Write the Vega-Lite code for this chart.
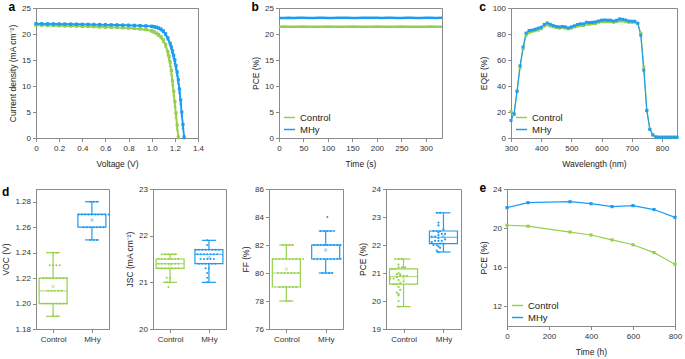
{
 "$schema": "https://vega.github.io/schema/vega-lite/v6.json",
 "padding": {"left": 1, "top": 0, "right": 2, "bottom": 0},
 "config": {
  "font": "Liberation Sans",
  "view": {"stroke": "#8a8a8a", "strokeWidth": 1},
  "axis": {"grid": false, "domainColor": "#8a8a8a", "tickColor": "#8a8a8a", "labelColor": "#333", "titleColor": "#222", "labelFontSize": 8, "titleFontSize": 8.5, "titleFontWeight": "normal", "tickSize": 3.5, "labelPadding": 2, "titlePadding": 4, "labelFlush": false, "labelOverlap": false},
  "axisX": {"labelPadding": 3, "titlePadding": 7},
  "legend": {"labelFontSize": 9.5, "labelColor": "#222", "title": null, "orient": "bottom-left", "offset": 4, "padding": 0, "rowPadding": 1, "symbolStrokeWidth": 1.5, "symbolType": "stroke", "symbolSize": 120},
  "title": {"anchor": "start", "frame": "bounds", "fontSize": 12, "fontWeight": "bold", "offset": -10, "color": "#000"}
 },
 "datasets": {
  "jv": [
   {"s":"Control forward","v":0,"j":21.68},{"s":"Control forward","v":0.05,"j":21.65},{"s":"Control forward","v":0.1,"j":21.62},{"s":"Control forward","v":0.15,"j":21.59},{"s":"Control forward","v":0.2,"j":21.56},{"s":"Control forward","v":0.25,"j":21.53},{"s":"Control forward","v":0.3,"j":21.5},{"s":"Control forward","v":0.35,"j":21.47},{"s":"Control forward","v":0.4,"j":21.43},{"s":"Control forward","v":0.45,"j":21.4},{"s":"Control forward","v":0.5,"j":21.37},{"s":"Control forward","v":0.55,"j":21.33},{"s":"Control forward","v":0.6,"j":21.29},{"s":"Control forward","v":0.65,"j":21.25},{"s":"Control forward","v":0.7,"j":21.21},{"s":"Control forward","v":0.75,"j":21.16},{"s":"Control forward","v":0.8,"j":21.1},{"s":"Control forward","v":0.85,"j":21.02},{"s":"Control forward","v":0.9,"j":20.92},{"s":"Control forward","v":0.95,"j":20.78},{"s":"Control forward","v":1.0,"j":20.52},{"s":"Control forward","v":1.02,"j":20.3},{"s":"Control forward","v":1.04,"j":20.02},{"s":"Control forward","v":1.06,"j":19.7},{"s":"Control forward","v":1.08,"j":19.25},{"s":"Control forward","v":1.1,"j":18.6},{"s":"Control forward","v":1.12,"j":17.6},{"s":"Control forward","v":1.14,"j":16.1},{"s":"Control forward","v":1.15,"j":15.1},{"s":"Control forward","v":1.16,"j":13.9},{"s":"Control forward","v":1.17,"j":12.3},{"s":"Control forward","v":1.18,"j":10.3},{"s":"Control forward","v":1.19,"j":8.3},{"s":"Control forward","v":1.2,"j":6.2},{"s":"Control forward","v":1.21,"j":4.0},{"s":"Control forward","v":1.22,"j":1.7},{"s":"Control forward","v":1.23,"j":0},
   {"s":"Control reverse","v":0,"j":21.75},{"s":"Control reverse","v":0.05,"j":21.72},{"s":"Control reverse","v":0.1,"j":21.69},{"s":"Control reverse","v":0.15,"j":21.66},{"s":"Control reverse","v":0.2,"j":21.63},{"s":"Control reverse","v":0.25,"j":21.6},{"s":"Control reverse","v":0.3,"j":21.57},{"s":"Control reverse","v":0.35,"j":21.54},{"s":"Control reverse","v":0.4,"j":21.5},{"s":"Control reverse","v":0.45,"j":21.47},{"s":"Control reverse","v":0.5,"j":21.44},{"s":"Control reverse","v":0.55,"j":21.4},{"s":"Control reverse","v":0.6,"j":21.36},{"s":"Control reverse","v":0.65,"j":21.32},{"s":"Control reverse","v":0.7,"j":21.28},{"s":"Control reverse","v":0.75,"j":21.23},{"s":"Control reverse","v":0.8,"j":21.18},{"s":"Control reverse","v":0.85,"j":21.1},{"s":"Control reverse","v":0.9,"j":21.0},{"s":"Control reverse","v":0.95,"j":20.88},{"s":"Control reverse","v":1.0,"j":20.65},{"s":"Control reverse","v":1.02,"j":20.45},{"s":"Control reverse","v":1.04,"j":20.2},{"s":"Control reverse","v":1.06,"j":19.9},{"s":"Control reverse","v":1.08,"j":19.5},{"s":"Control reverse","v":1.1,"j":18.9},{"s":"Control reverse","v":1.12,"j":18.0},{"s":"Control reverse","v":1.14,"j":16.6},{"s":"Control reverse","v":1.15,"j":15.7},{"s":"Control reverse","v":1.16,"j":14.6},{"s":"Control reverse","v":1.17,"j":13.0},{"s":"Control reverse","v":1.18,"j":11.0},{"s":"Control reverse","v":1.19,"j":9.0},{"s":"Control reverse","v":1.2,"j":7.0},{"s":"Control reverse","v":1.21,"j":4.8},{"s":"Control reverse","v":1.22,"j":2.5},{"s":"Control reverse","v":1.23,"j":0.2},
   {"s":"MHy forward","v":0,"j":21.95},{"s":"MHy forward","v":0.05,"j":21.94},{"s":"MHy forward","v":0.1,"j":21.92},{"s":"MHy forward","v":0.15,"j":21.91},{"s":"MHy forward","v":0.2,"j":21.89},{"s":"MHy forward","v":0.25,"j":21.88},{"s":"MHy forward","v":0.3,"j":21.86},{"s":"MHy forward","v":0.35,"j":21.85},{"s":"MHy forward","v":0.4,"j":21.83},{"s":"MHy forward","v":0.45,"j":21.81},{"s":"MHy forward","v":0.5,"j":21.79},{"s":"MHy forward","v":0.55,"j":21.77},{"s":"MHy forward","v":0.6,"j":21.75},{"s":"MHy forward","v":0.65,"j":21.73},{"s":"MHy forward","v":0.7,"j":21.7},{"s":"MHy forward","v":0.75,"j":21.67},{"s":"MHy forward","v":0.8,"j":21.64},{"s":"MHy forward","v":0.85,"j":21.6},{"s":"MHy forward","v":0.9,"j":21.56},{"s":"MHy forward","v":0.95,"j":21.5},{"s":"MHy forward","v":1.0,"j":21.42},{"s":"MHy forward","v":1.02,"j":21.34},{"s":"MHy forward","v":1.04,"j":21.22},{"s":"MHy forward","v":1.06,"j":21.05},{"s":"MHy forward","v":1.08,"j":20.8},{"s":"MHy forward","v":1.1,"j":20.42},{"s":"MHy forward","v":1.12,"j":19.85},{"s":"MHy forward","v":1.14,"j":19.0},{"s":"MHy forward","v":1.16,"j":17.9},{"s":"MHy forward","v":1.17,"j":17.2},{"s":"MHy forward","v":1.18,"j":16.4},{"s":"MHy forward","v":1.19,"j":15.5},{"s":"MHy forward","v":1.2,"j":14.55},{"s":"MHy forward","v":1.21,"j":13.4},{"s":"MHy forward","v":1.22,"j":12.1},{"s":"MHy forward","v":1.23,"j":10.6},{"s":"MHy forward","v":1.24,"j":8.8},{"s":"MHy forward","v":1.25,"j":6.7},{"s":"MHy forward","v":1.26,"j":4.4},{"s":"MHy forward","v":1.27,"j":2.0},{"s":"MHy forward","v":1.28,"j":0},
   {"s":"MHy reverse","v":0,"j":22.0},{"s":"MHy reverse","v":0.05,"j":21.99},{"s":"MHy reverse","v":0.1,"j":21.97},{"s":"MHy reverse","v":0.15,"j":21.96},{"s":"MHy reverse","v":0.2,"j":21.94},{"s":"MHy reverse","v":0.25,"j":21.93},{"s":"MHy reverse","v":0.3,"j":21.91},{"s":"MHy reverse","v":0.35,"j":21.9},{"s":"MHy reverse","v":0.4,"j":21.88},{"s":"MHy reverse","v":0.45,"j":21.86},{"s":"MHy reverse","v":0.5,"j":21.84},{"s":"MHy reverse","v":0.55,"j":21.82},{"s":"MHy reverse","v":0.6,"j":21.8},{"s":"MHy reverse","v":0.65,"j":21.78},{"s":"MHy reverse","v":0.7,"j":21.76},{"s":"MHy reverse","v":0.75,"j":21.73},{"s":"MHy reverse","v":0.8,"j":21.7},{"s":"MHy reverse","v":0.85,"j":21.67},{"s":"MHy reverse","v":0.9,"j":21.63},{"s":"MHy reverse","v":0.95,"j":21.58},{"s":"MHy reverse","v":1.0,"j":21.5},{"s":"MHy reverse","v":1.02,"j":21.43},{"s":"MHy reverse","v":1.04,"j":21.33},{"s":"MHy reverse","v":1.06,"j":21.18},{"s":"MHy reverse","v":1.08,"j":20.95},{"s":"MHy reverse","v":1.1,"j":20.6},{"s":"MHy reverse","v":1.12,"j":20.05},{"s":"MHy reverse","v":1.14,"j":19.25},{"s":"MHy reverse","v":1.16,"j":18.2},{"s":"MHy reverse","v":1.17,"j":17.5},{"s":"MHy reverse","v":1.18,"j":16.75},{"s":"MHy reverse","v":1.19,"j":15.9},{"s":"MHy reverse","v":1.2,"j":15.0},{"s":"MHy reverse","v":1.21,"j":13.9},{"s":"MHy reverse","v":1.22,"j":12.7},{"s":"MHy reverse","v":1.23,"j":11.2},{"s":"MHy reverse","v":1.24,"j":9.4},{"s":"MHy reverse","v":1.25,"j":7.3},{"s":"MHy reverse","v":1.26,"j":5.0},{"s":"MHy reverse","v":1.27,"j":2.6},{"s":"MHy reverse","v":1.28,"j":0.2}
  ],
  "spo": [
   {"s":"Control","t":0,"p":21.40},{"s":"Control","t":10,"p":21.42},{"s":"Control","t":20,"p":21.41},{"s":"Control","t":30,"p":21.39},{"s":"Control","t":40,"p":21.40},{"s":"Control","t":50,"p":21.43},{"s":"Control","t":60,"p":21.41},{"s":"Control","t":70,"p":21.40},{"s":"Control","t":80,"p":21.38},{"s":"Control","t":90,"p":21.41},{"s":"Control","t":100,"p":21.42},{"s":"Control","t":110,"p":21.40},{"s":"Control","t":120,"p":21.39},{"s":"Control","t":130,"p":21.41},{"s":"Control","t":140,"p":21.40},{"s":"Control","t":150,"p":21.42},{"s":"Control","t":160,"p":21.41},{"s":"Control","t":170,"p":21.39},{"s":"Control","t":180,"p":21.40},{"s":"Control","t":190,"p":21.41},{"s":"Control","t":200,"p":21.43},{"s":"Control","t":210,"p":21.40},{"s":"Control","t":220,"p":21.39},{"s":"Control","t":230,"p":21.41},{"s":"Control","t":240,"p":21.40},{"s":"Control","t":250,"p":21.42},{"s":"Control","t":260,"p":21.41},{"s":"Control","t":270,"p":21.40},{"s":"Control","t":280,"p":21.39},{"s":"Control","t":290,"p":21.41},{"s":"Control","t":300,"p":21.40},{"s":"Control","t":310,"p":21.42},{"s":"Control","t":320,"p":21.41},{"s":"Control","t":333,"p":21.40},
   {"s":"MHy","t":0,"p":23.08},{"s":"MHy","t":10,"p":23.10},{"s":"MHy","t":20,"p":23.12},{"s":"MHy","t":30,"p":23.09},{"s":"MHy","t":40,"p":23.11},{"s":"MHy","t":50,"p":23.13},{"s":"MHy","t":60,"p":23.10},{"s":"MHy","t":70,"p":23.08},{"s":"MHy","t":80,"p":23.11},{"s":"MHy","t":90,"p":23.12},{"s":"MHy","t":100,"p":23.10},{"s":"MHy","t":110,"p":23.09},{"s":"MHy","t":120,"p":23.11},{"s":"MHy","t":130,"p":23.13},{"s":"MHy","t":140,"p":23.12},{"s":"MHy","t":150,"p":23.10},{"s":"MHy","t":160,"p":23.09},{"s":"MHy","t":170,"p":23.11},{"s":"MHy","t":180,"p":23.12},{"s":"MHy","t":190,"p":23.14},{"s":"MHy","t":200,"p":23.11},{"s":"MHy","t":210,"p":23.10},{"s":"MHy","t":220,"p":23.12},{"s":"MHy","t":230,"p":23.11},{"s":"MHy","t":240,"p":23.09},{"s":"MHy","t":250,"p":23.10},{"s":"MHy","t":260,"p":23.12},{"s":"MHy","t":270,"p":23.11},{"s":"MHy","t":280,"p":23.10},{"s":"MHy","t":290,"p":23.09},{"s":"MHy","t":300,"p":23.11},{"s":"MHy","t":310,"p":23.12},{"s":"MHy","t":320,"p":23.10},{"s":"MHy","t":333,"p":23.11}
  ],
  "eqe": [
   {"s":"Control","w":300,"e":20.5},{"s":"Control","w":310,"e":18},{"s":"Control","w":320,"e":36},{"s":"Control","w":330,"e":54},{"s":"Control","w":340,"e":68.5},{"s":"Control","w":350,"e":79},{"s":"Control","w":360,"e":81},{"s":"Control","w":370,"e":82},{"s":"Control","w":380,"e":82.5},{"s":"Control","w":390,"e":83},{"s":"Control","w":400,"e":84},{"s":"Control","w":410,"e":86},{"s":"Control","w":420,"e":87},{"s":"Control","w":430,"e":86},{"s":"Control","w":440,"e":85.5},{"s":"Control","w":450,"e":85},{"s":"Control","w":460,"e":84.5},{"s":"Control","w":470,"e":85},{"s":"Control","w":480,"e":84.5},{"s":"Control","w":490,"e":84},{"s":"Control","w":500,"e":84.5},{"s":"Control","w":510,"e":85.5},{"s":"Control","w":520,"e":86},{"s":"Control","w":530,"e":86.5},{"s":"Control","w":540,"e":86.5},{"s":"Control","w":550,"e":87.5},{"s":"Control","w":560,"e":87.5},{"s":"Control","w":570,"e":88},{"s":"Control","w":580,"e":88},{"s":"Control","w":590,"e":89},{"s":"Control","w":600,"e":89.5},{"s":"Control","w":610,"e":89.5},{"s":"Control","w":620,"e":89.5},{"s":"Control","w":630,"e":89.5},{"s":"Control","w":640,"e":89},{"s":"Control","w":650,"e":89.5},{"s":"Control","w":660,"e":90},{"s":"Control","w":670,"e":90},{"s":"Control","w":680,"e":89.5},{"s":"Control","w":690,"e":89},{"s":"Control","w":700,"e":89},{"s":"Control","w":710,"e":89},{"s":"Control","w":720,"e":88},{"s":"Control","w":730,"e":80.5},{"s":"Control","w":740,"e":54.5},{"s":"Control","w":750,"e":21.5},{"s":"Control","w":760,"e":7},{"s":"Control","w":770,"e":2.5},{"s":"Control","w":780,"e":1},{"s":"Control","w":790,"e":0.8},{"s":"Control","w":800,"e":0.8},{"s":"Control","w":810,"e":0.8},{"s":"Control","w":820,"e":0.8},{"s":"Control","w":830,"e":0.8},{"s":"Control","w":840,"e":0.8},{"s":"Control","w":850,"e":0.8},
   {"s":"MHy","w":300,"e":13.5},{"s":"MHy","w":310,"e":18.6},{"s":"MHy","w":320,"e":35.9},{"s":"MHy","w":330,"e":55.5},{"s":"MHy","w":340,"e":70},{"s":"MHy","w":350,"e":80.7},{"s":"MHy","w":360,"e":82.7},{"s":"MHy","w":370,"e":83},{"s":"MHy","w":380,"e":83.7},{"s":"MHy","w":390,"e":84.5},{"s":"MHy","w":400,"e":85.2},{"s":"MHy","w":410,"e":87.3},{"s":"MHy","w":420,"e":88.5},{"s":"MHy","w":430,"e":87.5},{"s":"MHy","w":440,"e":86.5},{"s":"MHy","w":450,"e":85.8},{"s":"MHy","w":460,"e":85.5},{"s":"MHy","w":470,"e":85.8},{"s":"MHy","w":480,"e":85.5},{"s":"MHy","w":490,"e":84.7},{"s":"MHy","w":500,"e":85.5},{"s":"MHy","w":510,"e":86.3},{"s":"MHy","w":520,"e":87.3},{"s":"MHy","w":530,"e":87.8},{"s":"MHy","w":540,"e":87.8},{"s":"MHy","w":550,"e":89},{"s":"MHy","w":560,"e":88.8},{"s":"MHy","w":570,"e":89},{"s":"MHy","w":580,"e":89.3},{"s":"MHy","w":590,"e":90},{"s":"MHy","w":600,"e":90.6},{"s":"MHy","w":610,"e":90.8},{"s":"MHy","w":620,"e":90.6},{"s":"MHy","w":630,"e":90.6},{"s":"MHy","w":640,"e":90},{"s":"MHy","w":650,"e":90.6},{"s":"MHy","w":660,"e":91.6},{"s":"MHy","w":670,"e":91.3},{"s":"MHy","w":680,"e":90.8},{"s":"MHy","w":690,"e":90},{"s":"MHy","w":700,"e":89.8},{"s":"MHy","w":710,"e":89.8},{"s":"MHy","w":720,"e":88.3},{"s":"MHy","w":730,"e":79.1},{"s":"MHy","w":740,"e":52.2},{"s":"MHy","w":750,"e":21.1},{"s":"MHy","w":760,"e":6.6},{"s":"MHy","w":770,"e":2.3},{"s":"MHy","w":780,"e":0.8},{"s":"MHy","w":790,"e":0.5},{"s":"MHy","w":800,"e":0.5},{"s":"MHy","w":810,"e":0.5},{"s":"MHy","w":820,"e":0.5},{"s":"MHy","w":830,"e":0.5},{"s":"MHy","w":840,"e":0.5},{"s":"MHy","w":850,"e":0.5}
  ],
  "voc": [
   {"g":"Control","v":1.19},{"g":"Control","v":1.19},
   {"g":"Control","v":1.20},{"g":"Control","v":1.20},{"g":"Control","v":1.20},{"g":"Control","v":1.20},{"g":"Control","v":1.20},{"g":"Control","v":1.20},{"g":"Control","v":1.20},{"g":"Control","v":1.20},
   {"g":"Control","v":1.21},{"g":"Control","v":1.21},{"g":"Control","v":1.21},{"g":"Control","v":1.21},{"g":"Control","v":1.21},
   {"g":"Control","v":1.22},{"g":"Control","v":1.22},{"g":"Control","v":1.22},{"g":"Control","v":1.22},{"g":"Control","v":1.22},{"g":"Control","v":1.22},{"g":"Control","v":1.22},{"g":"Control","v":1.22},
   {"g":"Control","v":1.23},{"g":"Control","v":1.23},{"g":"Control","v":1.23},{"g":"Control","v":1.23},
   {"g":"Control","v":1.24},{"g":"Control","v":1.24},
   {"g":"MHy","v":1.25},{"g":"MHy","v":1.25},{"g":"MHy","v":1.25},
   {"g":"MHy","v":1.26},{"g":"MHy","v":1.26},{"g":"MHy","v":1.26},{"g":"MHy","v":1.26},{"g":"MHy","v":1.26},{"g":"MHy","v":1.26},{"g":"MHy","v":1.26},
   {"g":"MHy","v":1.27},{"g":"MHy","v":1.27},{"g":"MHy","v":1.27},{"g":"MHy","v":1.27},{"g":"MHy","v":1.27},{"g":"MHy","v":1.27},{"g":"MHy","v":1.27},{"g":"MHy","v":1.27},{"g":"MHy","v":1.27},{"g":"MHy","v":1.27},
   {"g":"MHy","v":1.28},{"g":"MHy","v":1.28},{"g":"MHy","v":1.28}
  ],
  "jsc": [
   {"g":"Control","v":20.9},{"g":"Control","v":21.0},{"g":"Control","v":21.0},{"g":"Control","v":21.1},{"g":"Control","v":21.1},
   {"g":"Control","v":21.3},{"g":"Control","v":21.3},{"g":"Control","v":21.3},{"g":"Control","v":21.3},{"g":"Control","v":21.3},{"g":"Control","v":21.3},{"g":"Control","v":21.3},
   {"g":"Control","v":21.4},{"g":"Control","v":21.4},{"g":"Control","v":21.4},{"g":"Control","v":21.4},{"g":"Control","v":21.4},{"g":"Control","v":21.4},{"g":"Control","v":21.4},
   {"g":"Control","v":21.5},{"g":"Control","v":21.5},{"g":"Control","v":21.5},{"g":"Control","v":21.5},{"g":"Control","v":21.5},{"g":"Control","v":21.5},{"g":"Control","v":21.5},
   {"g":"Control","v":21.6},{"g":"Control","v":21.6},{"g":"Control","v":21.6},{"g":"Control","v":21.6},{"g":"Control","v":21.6},
   {"g":"MHy","v":21.0},{"g":"MHy","v":21.1},{"g":"MHy","v":21.2},{"g":"MHy","v":21.3},{"g":"MHy","v":21.3},
   {"g":"MHy","v":21.4},{"g":"MHy","v":21.4},{"g":"MHy","v":21.4},{"g":"MHy","v":21.4},{"g":"MHy","v":21.4},{"g":"MHy","v":21.4},
   {"g":"MHy","v":21.5},{"g":"MHy","v":21.5},{"g":"MHy","v":21.5},{"g":"MHy","v":21.5},{"g":"MHy","v":21.5},
   {"g":"MHy","v":21.6},{"g":"MHy","v":21.6},{"g":"MHy","v":21.6},{"g":"MHy","v":21.6},{"g":"MHy","v":21.6},{"g":"MHy","v":21.6},{"g":"MHy","v":21.6},
   {"g":"MHy","v":21.7},{"g":"MHy","v":21.7},{"g":"MHy","v":21.7},{"g":"MHy","v":21.7},{"g":"MHy","v":21.7},{"g":"MHy","v":21.7},{"g":"MHy","v":21.7},{"g":"MHy","v":21.7},
   {"g":"MHy","v":21.8},{"g":"MHy","v":21.9}
  ],
  "ff": [
   {"g":"Control","v":78},{"g":"Control","v":78},
   {"g":"Control","v":79},{"g":"Control","v":79},{"g":"Control","v":79},{"g":"Control","v":79},{"g":"Control","v":79},{"g":"Control","v":79},
   {"g":"Control","v":80},{"g":"Control","v":80},{"g":"Control","v":80},{"g":"Control","v":80},{"g":"Control","v":80},{"g":"Control","v":80},{"g":"Control","v":80},
   {"g":"Control","v":81},{"g":"Control","v":81},{"g":"Control","v":81},{"g":"Control","v":81},{"g":"Control","v":81},{"g":"Control","v":81},{"g":"Control","v":81},{"g":"Control","v":81},{"g":"Control","v":81},{"g":"Control","v":81},
   {"g":"Control","v":82},{"g":"Control","v":82},{"g":"Control","v":82},{"g":"Control","v":82},
   {"g":"MHy","v":80},{"g":"MHy","v":80},{"g":"MHy","v":80},{"g":"MHy","v":80},
   {"g":"MHy","v":81},{"g":"MHy","v":81},{"g":"MHy","v":81},{"g":"MHy","v":81},{"g":"MHy","v":81},{"g":"MHy","v":81},{"g":"MHy","v":81},{"g":"MHy","v":81},{"g":"MHy","v":81},
   {"g":"MHy","v":82},{"g":"MHy","v":82},{"g":"MHy","v":82},{"g":"MHy","v":82},{"g":"MHy","v":82},{"g":"MHy","v":82},{"g":"MHy","v":82},{"g":"MHy","v":82},{"g":"MHy","v":82},
   {"g":"MHy","v":83},{"g":"MHy","v":83},{"g":"MHy","v":83},{"g":"MHy","v":83},{"g":"MHy","v":83},
   {"g":"MHy","v":84}
  ],
  "pce": [
   {"g":"Control","v":19.8},{"g":"Control","v":20.0},{"g":"Control","v":20.2},{"g":"Control","v":20.25},{"g":"Control","v":20.3},{"g":"Control","v":20.4},{"g":"Control","v":20.5},{"g":"Control","v":20.6},{"g":"Control","v":20.6},{"g":"Control","v":20.65},{"g":"Control","v":20.7},{"g":"Control","v":20.75},{"g":"Control","v":20.8},{"g":"Control","v":20.8},{"g":"Control","v":20.85},{"g":"Control","v":20.9},{"g":"Control","v":20.9},{"g":"Control","v":20.9},{"g":"Control","v":20.95},{"g":"Control","v":20.95},{"g":"Control","v":21.0},{"g":"Control","v":21.15},{"g":"Control","v":21.15},{"g":"Control","v":21.2},{"g":"Control","v":21.2},{"g":"Control","v":21.2},{"g":"Control","v":21.3},{"g":"Control","v":21.5},{"g":"Control","v":21.5},{"g":"Control","v":21.5},
   {"g":"MHy","v":21.75},{"g":"MHy","v":21.8},{"g":"MHy","v":21.9},{"g":"MHy","v":21.95},{"g":"MHy","v":22.0},{"g":"MHy","v":22.0},{"g":"MHy","v":22.05},{"g":"MHy","v":22.05},{"g":"MHy","v":22.1},{"g":"MHy","v":22.15},{"g":"MHy","v":22.15},{"g":"MHy","v":22.15},{"g":"MHy","v":22.2},{"g":"MHy","v":22.25},{"g":"MHy","v":22.3},{"g":"MHy","v":22.3},{"g":"MHy","v":22.35},{"g":"MHy","v":22.4},{"g":"MHy","v":22.4},{"g":"MHy","v":22.45},{"g":"MHy","v":22.5},{"g":"MHy","v":22.5},{"g":"MHy","v":22.5},{"g":"MHy","v":22.55},{"g":"MHy","v":22.7},{"g":"MHy","v":22.8},{"g":"MHy","v":23.15},{"g":"MHy","v":23.15}
  ],
  "stab": [
   {"s":"Control","t":0,"p":20.3},{"s":"Control","t":100,"p":20.2},{"s":"Control","t":300,"p":19.6},{"s":"Control","t":400,"p":19.3},{"s":"Control","t":500,"p":18.8},{"s":"Control","t":600,"p":18.3},{"s":"Control","t":700,"p":17.5},{"s":"Control","t":800,"p":16.3},
   {"s":"MHy","t":0,"p":22.1},{"s":"MHy","t":100,"p":22.6},{"s":"MHy","t":300,"p":22.7},{"s":"MHy","t":400,"p":22.5},{"s":"MHy","t":500,"p":22.2},{"s":"MHy","t":600,"p":22.3},{"s":"MHy","t":700,"p":21.9},{"s":"MHy","t":800,"p":21.1}
  ]
 },
 "vconcat": [
  {
   "hconcat": [
    {
     "title": "a",
     "width": 162, "height": 130,
     "data": {"name": "jv"},
     "mark": {"type": "line", "strokeWidth": 1.5, "point": {"filled": true, "size": 10}},
     "encoding": {
      "x": {"field": "v", "type": "quantitative", "scale": {"domain": [0, 1.4], "nice": false}, "axis": {"values": [0,0.2,0.4,0.6,0.8,1.0,1.2,1.4], "labelExpr": "datum.value == 0 ? '0' : format(datum.value, '.1f')"}, "title": "Voltage (V)"},
      "y": {"field": "j", "type": "quantitative", "scale": {"domain": [0, 25], "nice": false}, "axis": {"values": [0,5,10,15,20,25]}, "title": "Current density (mA cm⁻²)"},
      "color": {"field": "s", "type": "nominal", "scale": {"domain": ["Control forward","Control reverse","MHy forward","MHy reverse"], "range": ["#94d04c","#94d04c","#1c9cf2","#1c9cf2"]}},
      "shape": {"field": "s", "type": "nominal", "scale": {"domain": ["Control forward","Control reverse","MHy forward","MHy reverse"], "range": ["triangle-up","square","triangle-up","square"]}, "legend": null}
     }
    },
    {
     "hconcat": [
      {
       "title": "b",
       "width": 163, "height": 130,
       "data": {"name": "spo"},
       "mark": {"type": "line", "strokeWidth": 2.5},
       "encoding": {
        "x": {"field": "t", "type": "quantitative", "scale": {"domain": [0, 333], "nice": false}, "axis": {"values": [0,50,100,150,200,250,300]}, "title": "Time (s)"},
        "y": {"field": "p", "type": "quantitative", "scale": {"domain": [0, 25], "nice": false}, "axis": {"values": [0,5,10,15,20,25]}, "title": "PCE (%)"},
        "color": {"field": "s", "type": "nominal", "scale": {"domain": ["Control","MHy"], "range": ["#94d04c","#1c9cf2"]}}
       }
      },
      {
       "title": "c",
       "width": 166, "height": 130,
       "data": {"name": "eqe"},
       "mark": {"type": "line", "strokeWidth": 1.2, "point": {"filled": true, "size": 9, "shape": "square"}},
       "encoding": {
        "x": {"field": "w", "type": "quantitative", "scale": {"domain": [300, 850], "nice": false}, "axis": {"values": [300,400,500,600,700,800]}, "title": "Wavelength (nm)"},
        "y": {"field": "e", "type": "quantitative", "scale": {"domain": [0, 100], "nice": false}, "axis": {"values": [0,20,40,60,80,100]}, "title": "EQE (%)"},
        "color": {"field": "s", "type": "nominal", "scale": {"domain": ["Control","MHy"], "range": ["#94d04c","#1c9cf2"]}}
       }
      }
     ],
     "spacing": 30,
     "resolve": {"scale": {"color": "independent", "shape": "independent"}, "legend": {"color": "independent", "shape": "independent"}}
    }
   ],
   "spacing": 46,
   "resolve": {"scale": {"color": "independent", "shape": "independent"}, "legend": {"color": "independent", "shape": "independent"}}
  },
  {
   "hconcat": [
    {
     "hconcat": [
      {
       "title": "d",
       "width": 73, "height": 140,
       "data": {"name": "voc"},
       "encoding": {
        "x": {"field": "g", "type": "nominal", "scale": {"type": "point", "domain": ["Control","MHy"], "padding": 0.44}, "axis": {"labelAngle": 0}, "title": null},
        "y": {"field": "v", "type": "quantitative", "scale": {"domain": [1.18, 1.29], "nice": false, "zero": false}, "axis": {"values": [1.18,1.2,1.22,1.24,1.26,1.28], "format": ".2f"}, "title": "VOC (V)"}
       },
       "layer": [
        {"transform": [{"filter": "datum.g == 'Control'"}],
         "mark": {"type": "boxplot", "extent": 1.5, "size": 28, "outliers": false, "box": {"fill": "white", "stroke": "#94d04c", "strokeWidth": 1.2}, "median": {"color": "#94d04c", "thickness": 1.2}, "rule": {"color": "#94d04c", "strokeWidth": 1.2}, "ticks": {"color": "#94d04c", "size": 14, "thickness": 1.2}}},
        {"transform": [{"filter": "datum.g == 'MHy'"}],
         "mark": {"type": "boxplot", "extent": 1.5, "size": 28, "outliers": false, "box": {"fill": "white", "stroke": "#1c9cf2", "strokeWidth": 1.2}, "median": {"color": "#1c9cf2", "thickness": 1.2}, "rule": {"color": "#1c9cf2", "strokeWidth": 1.2}, "ticks": {"color": "#1c9cf2", "size": 14, "thickness": 1.2}}},
        {"transform": [{"window": [{"op": "count", "as": "one"}], "frame": [0, 0]}, {"stack": "one", "groupby": ["g", "v"], "offset": "center", "as": ["s0", "s1"]}],
         "mark": {"type": "point", "filled": true, "size": 4, "opacity": 1},
         "encoding": {"xOffset": {"field": "s0", "type": "quantitative", "scale": {"domain": [-5.5, 14.5], "range": [-35, 35]}}, "color": {"field": "g", "type": "nominal", "scale": {"domain": ["Control","MHy"], "range": ["#94d04c","#1c9cf2"]}, "legend": null}}},
        {"transform": [{"aggregate": [{"op": "mean", "field": "v", "as": "v"}], "groupby": ["g"]}],
         "mark": {"type": "point", "shape": "square", "filled": true, "size": 9, "opacity": 0.4},
         "encoding": {"color": {"field": "g", "type": "nominal", "legend": null}}}
       ]
      },
      {
       "width": 73, "height": 140,
       "data": {"name": "jsc"},
       "encoding": {
        "x": {"field": "g", "type": "nominal", "scale": {"type": "point", "domain": ["Control","MHy"], "padding": 0.44}, "axis": {"labelAngle": 0}, "title": null},
        "y": {"field": "v", "type": "quantitative", "scale": {"domain": [20, 23], "nice": false, "zero": false}, "axis": {"values": [20,21,22,23]}, "title": "JSC (mA cm⁻²)"}
       },
       "layer": [
        {"transform": [{"filter": "datum.g == 'Control'"}],
         "mark": {"type": "boxplot", "extent": 1.5, "size": 28, "outliers": false, "box": {"fill": "white", "stroke": "#94d04c", "strokeWidth": 1.2}, "median": {"color": "#94d04c", "thickness": 1.2}, "rule": {"color": "#94d04c", "strokeWidth": 1.2}, "ticks": {"color": "#94d04c", "size": 14, "thickness": 1.2}}},
        {"transform": [{"filter": "datum.g == 'MHy'"}],
         "mark": {"type": "boxplot", "extent": 1.5, "size": 28, "outliers": false, "box": {"fill": "white", "stroke": "#1c9cf2", "strokeWidth": 1.2}, "median": {"color": "#1c9cf2", "thickness": 1.2}, "rule": {"color": "#1c9cf2", "strokeWidth": 1.2}, "ticks": {"color": "#1c9cf2", "size": 14, "thickness": 1.2}}},
        {"transform": [{"window": [{"op": "count", "as": "one"}], "frame": [0, 0]}, {"stack": "one", "groupby": ["g", "v"], "offset": "center", "as": ["s0", "s1"]}],
         "mark": {"type": "point", "filled": true, "size": 4, "opacity": 1},
         "encoding": {"xOffset": {"field": "s0", "type": "quantitative", "scale": {"domain": [-6.5, 13.5], "range": [-35, 35]}}, "color": {"field": "g", "type": "nominal", "scale": {"domain": ["Control","MHy"], "range": ["#94d04c","#1c9cf2"]}, "legend": null}}},
        {"transform": [{"aggregate": [{"op": "mean", "field": "v", "as": "v"}], "groupby": ["g"]}],
         "mark": {"type": "point", "shape": "square", "filled": true, "size": 9, "opacity": 0.4},
         "encoding": {"color": {"field": "g", "type": "nominal", "legend": null}}}
       ]
      },
      {
       "width": 74, "height": 140,
       "data": {"name": "ff"},
       "encoding": {
        "x": {"field": "g", "type": "nominal", "scale": {"type": "point", "domain": ["Control","MHy"], "padding": 0.44}, "axis": {"labelAngle": 0}, "title": null},
        "y": {"field": "v", "type": "quantitative", "scale": {"domain": [76, 86], "nice": false, "zero": false}, "axis": {"values": [76,78,80,82,84,86]}, "title": "FF (%)"}
       },
       "layer": [
        {"transform": [{"filter": "datum.g == 'Control'"}],
         "mark": {"type": "boxplot", "extent": 1.5, "size": 28, "outliers": false, "box": {"fill": "white", "stroke": "#94d04c", "strokeWidth": 1.2}, "median": {"color": "#94d04c", "thickness": 1.2}, "rule": {"color": "#94d04c", "strokeWidth": 1.2}, "ticks": {"color": "#94d04c", "size": 14, "thickness": 1.2}}},
        {"transform": [{"filter": "datum.g == 'MHy'"}],
         "mark": {"type": "boxplot", "extent": 1.5, "size": 28, "outliers": false, "box": {"fill": "white", "stroke": "#1c9cf2", "strokeWidth": 1.2}, "median": {"color": "#1c9cf2", "thickness": 1.2}, "rule": {"color": "#1c9cf2", "strokeWidth": 1.2}, "ticks": {"color": "#1c9cf2", "size": 14, "thickness": 1.2}}},
        {"transform": [{"window": [{"op": "count", "as": "one"}], "frame": [0, 0]}, {"stack": "one", "groupby": ["g", "v"], "offset": "center", "as": ["s0", "s1"]}],
         "mark": {"type": "point", "filled": true, "size": 4, "opacity": 1},
         "encoding": {"xOffset": {"field": "s0", "type": "quantitative", "scale": {"domain": [-5.5, 14.5], "range": [-35, 35]}}, "color": {"field": "g", "type": "nominal", "scale": {"domain": ["Control","MHy"], "range": ["#94d04c","#1c9cf2"]}, "legend": null}}},
        {"transform": [{"aggregate": [{"op": "mean", "field": "v", "as": "v"}], "groupby": ["g"]}],
         "mark": {"type": "point", "shape": "square", "filled": true, "size": 9, "opacity": 0.4},
         "encoding": {"color": {"field": "g", "type": "nominal", "legend": null}}}
       ]
      },
      {
       "width": 75, "height": 140,
       "data": {"name": "pce"},
       "encoding": {
        "x": {"field": "g", "type": "nominal", "scale": {"type": "point", "domain": ["Control","MHy"], "padding": 0.44}, "axis": {"labelAngle": 0}, "title": null},
        "y": {"field": "v", "type": "quantitative", "scale": {"domain": [19, 24], "nice": false, "zero": false}, "axis": {"values": [19,20,21,22,23,24]}, "title": "PCE (%)"}
       },
       "layer": [
        {"transform": [{"filter": "datum.g == 'Control'"}],
         "mark": {"type": "boxplot", "extent": 1.5, "size": 28, "outliers": false, "box": {"fill": "white", "stroke": "#94d04c", "strokeWidth": 1.2}, "median": {"color": "#94d04c", "thickness": 1.2}, "rule": {"color": "#94d04c", "strokeWidth": 1.2}, "ticks": {"color": "#94d04c", "size": 14, "thickness": 1.2}}},
        {"transform": [{"filter": "datum.g == 'MHy'"}],
         "mark": {"type": "boxplot", "extent": 1.5, "size": 28, "outliers": false, "box": {"fill": "white", "stroke": "#1c9cf2", "strokeWidth": 1.2}, "median": {"color": "#1c9cf2", "thickness": 1.2}, "rule": {"color": "#1c9cf2", "strokeWidth": 1.2}, "ticks": {"color": "#1c9cf2", "size": 14, "thickness": 1.2}}},
        {"transform": [{"bin": {"step": 0.1}, "field": "v", "as": "vb"}, {"window": [{"op": "count", "as": "one"}], "frame": [0, 0]}, {"stack": "one", "groupby": ["g", "vb"], "offset": "center", "as": ["s0", "s1"]}],
         "mark": {"type": "point", "filled": true, "size": 5, "opacity": 1},
         "encoding": {"xOffset": {"field": "s0", "type": "quantitative", "scale": {"domain": [-3, 7], "range": [-30, 30]}}, "color": {"field": "g", "type": "nominal", "scale": {"domain": ["Control","MHy"], "range": ["#94d04c","#1c9cf2"]}, "legend": null}}},
        {"transform": [{"aggregate": [{"op": "mean", "field": "v", "as": "v"}], "groupby": ["g"]}],
         "mark": {"type": "point", "shape": "square", "filled": true, "size": 9, "opacity": 0.4},
         "encoding": {"color": {"field": "g", "type": "nominal", "legend": null}}}
       ]
      }
     ],
     "spacing": 14,
     "resolve": {"scale": {"color": "independent", "y": "independent", "x": "independent"}, "legend": {"color": "independent"}}
    },
    {
     "title": "e",
     "width": 168, "height": 137,
     "data": {"name": "stab"},
     "mark": {"type": "line", "strokeWidth": 1.2, "point": {"filled": true, "size": 10, "shape": "square"}},
     "encoding": {
      "x": {"field": "t", "type": "quantitative", "scale": {"domain": [0, 800], "nice": false}, "axis": {"values": [0,200,400,600,800]}, "title": "Time (h)"},
      "y": {"field": "p", "type": "quantitative", "scale": {"domain": [10, 24], "nice": false, "zero": false}, "axis": {"values": [12,16,20,24]}, "title": "PCE (%)"},
      "color": {"field": "s", "type": "nominal", "scale": {"domain": ["Control","MHy"], "range": ["#94d04c","#1c9cf2"]}}
     }
    }
   ],
   "spacing": 17,
   "resolve": {"scale": {"color": "independent", "y": "independent", "x": "independent"}, "legend": {"color": "independent"}}
  }
 ],
 "spacing": 12,
 "resolve": {"scale": {"color": "independent", "shape": "independent"}, "legend": {"color": "independent", "shape": "independent"}}
}
